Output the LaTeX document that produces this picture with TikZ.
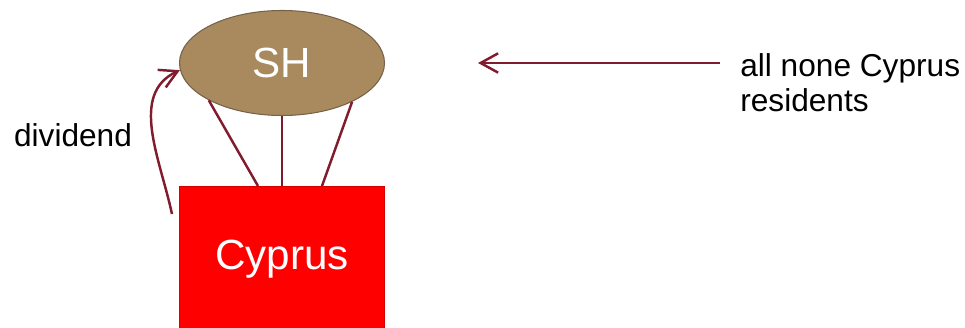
\documentclass[tikz,border=0pt]{standalone}
\usepackage{fontspec}
\setmainfont{Liberation Sans}
\usetikzlibrary{arrows.meta,calc,positioning,shapes.geometric}
\definecolor{shtan}{RGB}{168,138,94}
\definecolor{shrim}{RGB}{118,98,72}
\definecolor{cyred}{RGB}{255,0,0}
\definecolor{cyrim}{RGB}{214,0,0}
\definecolor{wine}{RGB}{128,28,46}
\begin{document}
\begin{tikzpicture}[
    shnode/.style={
        ellipse,
        draw=shrim, fill=shtan, line width=0.6pt,
        minimum width=4.1cm,
        minimum height=2.1cm,
        inner sep=0pt,
        text=white, font={\fontsize{24}{28}\selectfont}
    },
    cybox/.style={
        rectangle,
        draw=cyrim, fill=cyred, line width=0.6pt,
        minimum width=4.1cm,
        minimum height=2.92cm,
        inner sep=0pt,
        text=white, font={\fontsize{24}{28}\selectfont}
    },
    note/.style={
        inner sep=0pt, align=left,
        font={\fontsize{18}{20}\selectfont}
    },
    link/.style={draw=wine, line width=1.4pt},
    arr/.style={link, -{Straight Barb[length=10pt,width=11pt,line width=1.4pt]}}
]
\useasboundingbox (0,0) rectangle (19.3,-6.56);

\node[shnode] (sh) at (5.64,-1.26) {SH};
\node[cybox, below=1.4cm of sh] (cy) {Cyprus};
\node[note, anchor=west] (res) at (14.8,-1.66) {all none Cyprus\\residents};
\node[note] (div) at (1.46,-2.7) {dividend};

% ties between SH and Cyprus
\draw[link] (sh.207) -- ($(cy.north)+(-0.48,0)$);
\draw[link] (sh.south) -- (cy.north);
\draw[link] (sh.331) -- ($(cy.north)+(0.8,0)$);

% dividend flow
\coordinate (divfrom) at ($(cy.north west)+(-0.14,-0.56)$);
\draw[arr] (divfrom) to[out=102, in=205] (sh.184);

% residents pointer
\coordinate (resfrom) at ([xshift=-4mm]res.west |- sh.east);
\coordinate (restip) at ([xshift=18.6mm]sh.east);
\draw[arr] (resfrom) -- (restip);
\end{tikzpicture}
\end{document}
